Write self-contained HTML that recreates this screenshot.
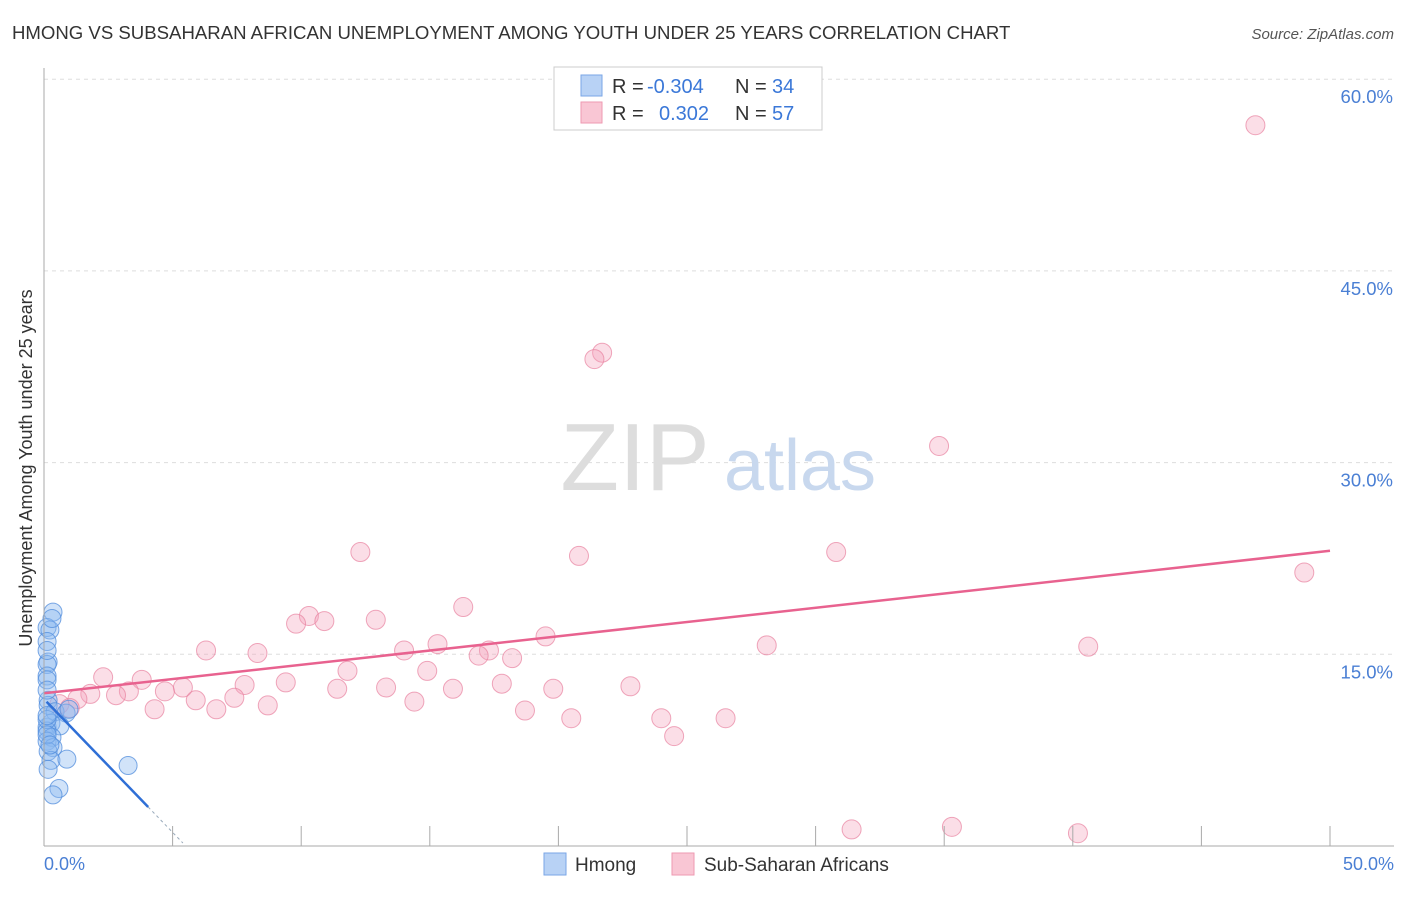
<!DOCTYPE html>
<html><head><meta charset="utf-8"><style>
body{margin:0;background:#fff;font-family:"Liberation Sans",sans-serif;}
svg text{font-family:"Liberation Sans",sans-serif;}
</style></head><body>
<svg width="1406" height="892" xmlns="http://www.w3.org/2000/svg">
<text x="12" y="39" font-size="18.6" fill="#333">HMONG VS SUBSAHARAN AFRICAN UNEMPLOYMENT AMONG YOUTH UNDER 25 YEARS CORRELATION CHART</text>
<text x="1394" y="39" font-size="15" fill="#555" font-style="italic" text-anchor="end">Source: ZipAtlas.com</text>
<g id="grid"></g>
<text x="635" y="490" font-size="96" fill="#ddd" font-family="Liberation Serif" text-anchor="middle">ZIP</text>
<text x="800" y="490" font-size="72" fill="#c8d8ee" text-anchor="middle">atlas</text>
<g id="pts"></g>
<g id="lines"></g>
<line x1="44" y1="68" x2="44" y2="846" stroke="#aaa"/>
<line x1="44" y1="846" x2="1394" y2="846" stroke="#aaa"/>
<g id="ticks"></g>
<text x="20" y="456" font-size="18" fill="#333" transform="rotate(-90 32 456)" text-anchor="middle">Unemployment Among Youth under 25 years</text>
<text x="44" y="870" font-size="18" fill="#4a7fd4">0.0%</text>
<text x="1394" y="870" font-size="18" fill="#4a7fd4" text-anchor="end">50.0%</text>
<g>
<rect x="554" y="67" width="268" height="63" fill="#fff" stroke="#ccc"/>
<rect x="581" y="75" width="21" height="21" fill="#b8d2f5" stroke="#7aa6e6"/>
<rect x="581" y="102" width="21" height="21" fill="#f9c6d4" stroke="#ee9ab2"/>
<text x="612" y="93" font-size="20" fill="#333">R = <tspan x="647" fill="#3b78d8">-0.304</tspan><tspan x="735">N = </tspan><tspan x="772" fill="#3b78d8">34</tspan></text>
<text x="612" y="120" font-size="20" fill="#333">R = <tspan x="659" fill="#3b78d8">0.302</tspan><tspan x="735">N = </tspan><tspan x="772" fill="#3b78d8">57</tspan></text>
</g>
<g>
<rect x="544" y="853" width="22" height="22" fill="#b8d2f5" stroke="#7aa6e6"/>
<text x="575" y="871" font-size="19" fill="#333">Hmong</text>
<rect x="672" y="853" width="22" height="22" fill="#f9c6d4" stroke="#ee9ab2"/>
<text x="704" y="871" font-size="19" fill="#333">Sub-Saharan Africans</text>
</g>
</svg>
<script>
const yTicks=[15,30,45,60];
const xTicks=[0,5,10,15,20,25,30,35,40,45,50];
const pinkX=[47.1,21.7,21.4,34.8,12.3,20.8,30.8,49.0,16.3,10.3,10.9,9.8,12.9,6.3,8.3,15.3,19.5,28.1,40.6,14.0,17.3,16.9,18.2,11.8,14.9,2.3,3.8,9.4,7.8,17.8,22.8,13.3,15.9,19.8,11.4,5.4,4.7,1.8,3.3,2.8,5.9,7.4,1.3,4.3,6.7,8.7,14.4,18.7,0.6,1.0,20.5,24.0,26.5,24.5,31.4,35.3,40.2];
const pinkY=[56.4,38.6,38.1,31.3,23.0,22.7,23.0,21.4,18.7,18.0,17.6,17.4,17.7,15.3,15.1,15.8,16.4,15.7,15.6,15.3,15.3,14.9,14.7,13.7,13.7,13.2,13.0,12.8,12.6,12.7,12.5,12.4,12.3,12.3,12.3,12.4,12.1,11.9,12.1,11.8,11.4,11.6,11.5,10.7,10.7,11.0,11.3,10.6,11.1,10.8,10.0,10.0,10.0,8.6,1.3,1.5,1.0];
const blueX=[0.35,0.12,0.23,0.12,0.16,0.12,0.12,0.12,0.16,0.16,0.43,0.86,0.97,0.12,0.27,0.62,0.12,0.31,0.12,0.35,0.16,0.27,0.89,0.16,3.27,0.58,0.35,0.12,0.12,0.23,0.12,0.12,0.31,0.12];
const blueY=[18.3,17.1,16.9,16.0,14.4,14.2,13.3,13.0,11.4,11.0,10.5,10.4,10.7,9.3,9.6,9.4,9.0,8.5,8.2,7.7,7.4,6.7,6.8,6.0,6.3,4.5,4.0,9.9,8.7,7.9,10.2,12.2,17.8,15.3];
const pinkFit=[11.95,23.1];
const blueFit=[11.5,3.05];
const X=v=>44+v*25.72, Y=v=>846-v*12.78;
const NS="http://www.w3.org/2000/svg";
function mk(t,a,p){const e=document.createElementNS(NS,t);for(const k in a)e.setAttribute(k,a[k]);p.appendChild(e);return e;}
const grid=document.getElementById('grid'),ticks=document.getElementById('ticks');
yTicks.forEach(v=>{
 const l=mk('line',{x1:44,x2:1394,y1:Y(v),y2:Y(v),stroke:'#ddd','stroke-dasharray':'4,4'},grid);
 
 
 const t=mk('text',{x:1393,y:Y(v)+24,'font-size':18.5,fill:'#4a7fd4','text-anchor':'end'},grid);
 t.textContent=v.toFixed(1)+'%';
 
 
});
xTicks.forEach(v=>{
 const l=mk('line',{x1:X(v),x2:X(v),y1:826,y2:846,stroke:'#aaa'},ticks);
 
 
});
const pts=document.getElementById('pts');
pinkX.forEach((v,i)=>{
 const c=mk('circle',{cx:X(v),cy:Y(pinkY[i]),r:9.5,fill:'rgba(244,160,185,0.35)',stroke:'rgba(232,130,160,0.7)','stroke-width':1},pts);
 
 
});
blueX.forEach((v,i)=>{
 const c=mk('circle',{cx:X(v),cy:Y(blueY[i]),r:9,fill:'rgba(140,185,240,0.4)',stroke:'rgba(80,140,220,0.75)','stroke-width':1},pts);
 
 
});
const lines=document.getElementById('lines');
const pl=mk('line',{x1:X(0),y1:Y(pinkFit[0]),x2:X(50),y2:Y(pinkFit[1]),stroke:'#e8628f','stroke-width':2.5},lines);


const bs=(blueFit[1]-blueFit[0])/4.05;
const bl=mk('line',{x1:X(0.1),y1:Y(blueFit[0]+bs*0.1),x2:X(4.05),y2:Y(blueFit[1]),stroke:'#2f6fd6','stroke-width':2.5},lines);


const bd=mk('line',{x1:X(4.05),y1:Y(blueFit[1]),x2:X(5.4),y2:Y(blueFit[1]+bs*1.35),stroke:'#9ab','stroke-width':1,'stroke-dasharray':'3,3'},lines);


</script>
</body></html>
